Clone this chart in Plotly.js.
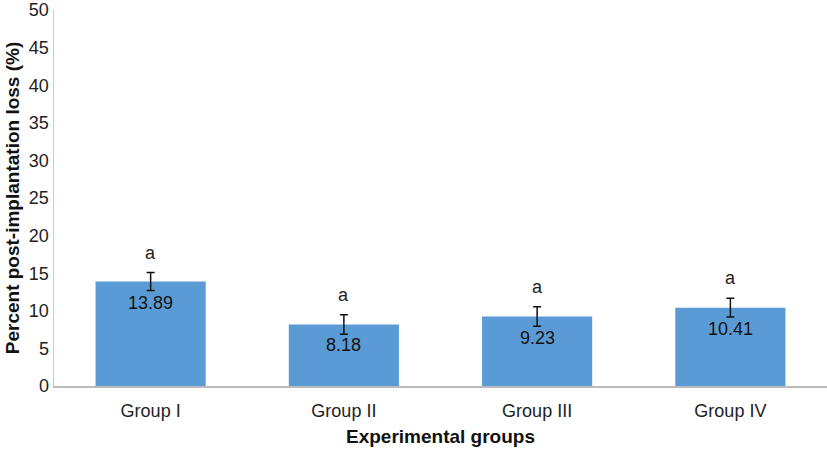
<!DOCTYPE html>
<html>
<head>
<meta charset="utf-8">
<script src="https://cdn.plot.ly/plotly-3.0.1.min.js"></script>
<style>html,body{margin:0;padding:0;background:#fff;}#chart{width:827px;height:450px;}</style>
</head>
<body>
<div id="chart"></div>
<script>
const categories = ["Group I", "Group II", "Group III", "Group IV"];
const values = [13.89, 8.18, 9.23, 10.41];
const errors = [1.2, 1.3, 1.3, 1.25];
const sigLetters = ["a", "a", "a", "a"];
const yTicks = [0, 5, 10, 15, 20, 25, 30, 35, 40, 45, 50];

const font = "Liberation Sans, Arial, Helvetica, sans-serif";

const annotations = [];
categories.forEach((c, i) => {
  annotations.push({
    x: c, y: values[i], xref: "x", yref: "y",
    text: values[i].toFixed(2), showarrow: false,
    yanchor: "top", yshift: -9,
    font: {family: font, size: 18, color: "#111"}
  });
  annotations.push({
    x: c, y: values[i] + errors[i], xref: "x", yref: "y",
    text: sigLetters[i], showarrow: false,
    yanchor: "bottom", yshift: 8,
    font: {family: font, size: 18, color: "#222"}
  });
});

const trace = {
  type: "bar",
  x: categories,
  y: values,
  marker: {color: "#5b9bd5"},
  error_y: {type: "data", array: errors, visible: true, color: "#111", thickness: 1.5, width: 4},
  hoverinfo: "none"
};

const layout = {
  width: 827, height: 450,
  margin: {l: 54, r: 0, t: 10, b: 64},
  paper_bgcolor: "#fff", plot_bgcolor: "#fff",
  bargap: 0.43,
  showlegend: false,
  font: {family: font, size: 18, color: "#222"},
  xaxis: {
    showline: true, linecolor: "#bbb", linewidth: 2,
    ticks: "", showgrid: false,
    ticklabelstandoff: 7,
    tickfont: {family: font, size: 18, color: "#222"},
    title: {text: "<b>Experimental groups</b>", font: {family: font, size: 19, color: "#111"}, standoff: 10}
  },
  yaxis: {
    range: [0, 50], tickvals: yTicks, ticktext: yTicks.map(String),
    showline: true, linecolor: "#ccc", linewidth: 1.5,
    ticks: "", showgrid: false, zeroline: false,
    ticklabeloverflow: "allow",
    tickfont: {family: font, size: 18, color: "#222"},
    title: {text: "<b>Percent post-implantation loss (%)</b>", font: {family: font, size: 19, color: "#111"}, standoff: 4}
  },
  annotations: annotations
};

Plotly.newPlot("chart", [trace], layout, {displayModeBar: false, staticPlot: true});
</script>
</body>
</html>
